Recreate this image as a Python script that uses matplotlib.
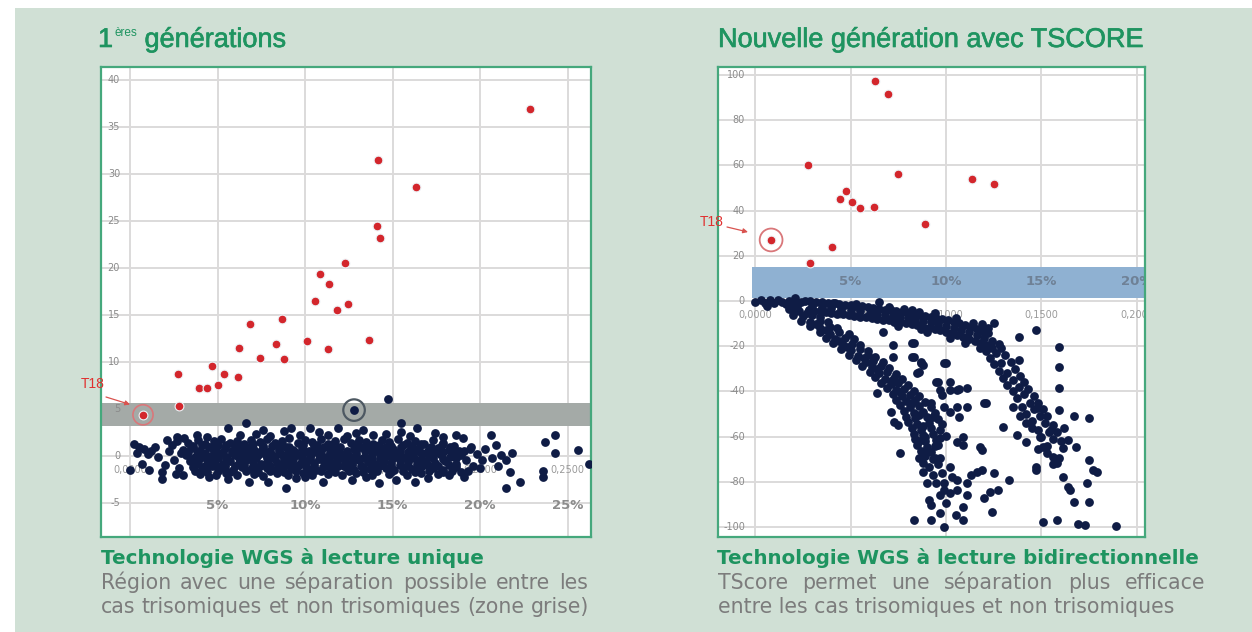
import matplotlib.pyplot as plt
from matplotlib.patches import Rectangle
import matplotlib.patheffects as pe
import numpy as np

W, H = 1252, 632

# ---- data (x in %, y = score) ----
left_red = [(22.86, 36.9), (14.17, 31.5), (16.34, 28.6), (14.11, 24.5), (14.29, 23.2),
            (12.29, 20.6), (10.86, 19.4), (11.37, 18.3), (10.57, 16.5), (12.46, 16.2),
            (11.8, 15.5), (6.86, 14.1), (8.69, 14.6), (10.1, 12.3), (11.3, 11.4),
            (13.66, 12.4), (8.34, 11.9), (6.23, 11.5), (7.43, 10.4), (8.8, 10.3),
            (4.69, 9.6), (5.37, 8.7), (6.17, 8.4), (2.74, 8.7), (3.94, 7.3), (4.4, 7.3),
            (5.03, 7.6), (2.8, 5.3), (0.74, 4.4)]

left_dark_out = [(14.74, 6.1), (15.5, 3.5), (6.6, 3.5), (12.8, 4.9)]

left_dark = [
    # sparse start
    (0.0, -1.5), (0.2, 1.3), (0.4, 0.3), (0.5, 1.0), (0.7, -0.8), (0.8, 0.8), (1.0, 0.2),
    (1.1, -1.5), (1.2, 0.5), (1.4, 1.0), (1.6, -0.1), (1.8, -1.7), (1.8, -2.4), (2.0, -0.9),
    (2.1, 1.7), (2.2, 0.6), (2.4, 1.2), (2.5, -0.4), (2.6, -1.9), (2.7, 2.0), (2.8, -1.3),
    (2.9, 0.3),
    # top fringe
    (2.7, 1.6), (3.1, 1.9), (5.6, 3.0), (6.3, 2.2), (8.8, 2.7), (9.2, 3.0), (10.3, 3.0),
    (10.8, 2.6), (11.9, 3.0), (12.9, 2.5), (13.9, 2.2), (15.5, 2.6), (16.4, 3.0), (17.4, 2.5),
    (3.8, 2.3), (4.4, 2.0), (7.2, 2.4), (8.0, 2.1), (9.7, 2.3), (11.3, 2.2), (12.4, 2.1),
    (14.6, 2.4), (16.0, 2.1), (17.9, 2.0), (18.6, 2.3), (19.0, 1.9), (7.6, 2.8), (13.3, 2.8),
    # bottom fringe
    (3.0, -2.0), (4.5, -2.2), (6.8, -2.7), (7.9, -2.7), (8.9, -3.4), (10.0, -2.2), (11.0, -2.7),
    (12.7, -2.5), (14.2, -2.9), (15.2, -2.5), (16.3, -2.8), (17.0, -2.3), (18.2, -2.0),
    (19.1, -2.2), (5.6, -2.4), (9.5, -2.3), (13.5, -2.2), (3.7, -1.6),
    # right tail
    (19.5, 1.0), (19.8, 0.2), (19.6, -1.0), (19.3, -1.6), (20.0, -1.3), (20.6, 2.2),
    (20.9, 1.2), (20.7, -0.2), (21.2, 0.1), (21.5, -0.4), (21.8, 0.3), (21.0, -1.1),
    (21.7, -1.7), (22.3, -2.7), (21.5, -3.4), (23.7, 1.5), (24.3, 2.2), (24.3, 0.3),
    (25.6, 0.7), (26.2, -0.85), (23.6, -1.6), (23.6, -2.2), (20.3, 0.8), (20.1, -0.4),
    # core
    (3.3, 1.4), (3.9, 1.7), (4.3, 1.3), (4.8, 1.6), (5.2, 1.8), (5.7, 1.4), (6.1, 1.6),
    (6.5, 1.3), (6.9, 1.7), (7.4, 1.5), (7.8, 1.8), (8.3, 1.4), (8.7, 1.6), (9.1, 1.9),
    (9.6, 1.4), (10.0, 1.7), (10.4, 1.5), (10.9, 1.8), (11.3, 1.3), (11.7, 1.6), (12.2, 1.8),
    (12.6, 1.4), (13.1, 1.7), (13.5, 1.5), (13.9, 1.3), (14.4, 1.7), (14.8, 1.5), (15.3, 1.8),
    (15.8, 1.4), (16.3, 1.6), (16.8, 1.3), (17.3, 1.7), (17.9, 1.4), (18.5, 1.1),
    (3.0, 0.7), (3.5, 0.9), (4.0, 0.6), (4.5, 1.0), (4.9, 0.7), (5.4, 0.9), (5.8, 0.6),
    (6.3, 0.8), (6.7, 1.0), (7.1, 0.7), (7.6, 0.9), (8.0, 0.6), (8.5, 0.8), (8.9, 1.0),
    (9.3, 0.7), (9.8, 0.9), (10.2, 0.6), (10.6, 0.8), (11.1, 1.0), (11.5, 0.7), (11.9, 0.9),
    (12.4, 0.6), (12.8, 0.8), (13.2, 1.0), (13.7, 0.7), (14.1, 0.9), (14.6, 0.6), (15.0, 0.8),
    (15.5, 1.0), (16.0, 0.7), (16.5, 0.9), (17.0, 0.6), (17.6, 0.9), (18.2, 0.7), (18.8, 0.5),
    (19.4, 0.8),
    (3.2, 0.1), (3.7, -0.1), (4.2, 0.2), (4.6, 0.0), (5.1, 0.2), (5.5, -0.1), (6.0, 0.1),
    (6.4, 0.2), (6.8, -0.1), (7.3, 0.1), (7.7, 0.2), (8.2, 0.0), (8.6, 0.2), (9.0, -0.1),
    (9.5, 0.1), (9.9, 0.3), (10.3, 0.0), (10.8, 0.2), (11.2, -0.1), (11.6, 0.1), (12.0, 0.3),
    (12.5, 0.0), (12.9, 0.2), (13.4, -0.1), (13.8, 0.1), (14.3, 0.3), (14.7, 0.0), (15.2, 0.2),
    (15.6, -0.1), (16.1, 0.1), (16.6, 0.3), (17.1, 0.0), (17.7, 0.2), (18.3, -0.1), (18.9, 0.1),
    (3.4, -0.5), (3.9, -0.7), (4.4, -0.4), (4.8, -0.6), (5.3, -0.8), (5.7, -0.5), (6.2, -0.7),
    (6.6, -0.4), (7.0, -0.6), (7.5, -0.8), (7.9, -0.5), (8.4, -0.7), (8.8, -0.4), (9.2, -0.6),
    (9.7, -0.8), (10.1, -0.5), (10.5, -0.7), (11.0, -0.4), (11.4, -0.6), (11.8, -0.8),
    (12.3, -0.5), (12.7, -0.7), (13.1, -0.4), (13.6, -0.6), (14.0, -0.8), (14.5, -0.5),
    (14.9, -0.7), (15.4, -0.4), (15.9, -0.6), (16.4, -0.8), (16.9, -0.5), (17.4, -0.7),
    (18.0, -0.5), (18.6, -0.8), (19.2, -0.4),
    (3.6, -1.2), (4.1, -1.4), (4.7, -1.1), (5.2, -1.3), (5.9, -1.5), (6.4, -1.2), (6.9, -1.4),
    (7.4, -1.1), (7.8, -1.3), (8.3, -1.5), (8.7, -1.2), (9.2, -1.4), (9.6, -1.1), (10.1, -1.3),
    (10.6, -1.5), (11.0, -1.2), (11.5, -1.4), (11.9, -1.1), (12.4, -1.3), (12.8, -1.5),
    (13.3, -1.2), (13.7, -1.4), (14.2, -1.1), (14.6, -1.3), (15.1, -1.5), (15.6, -1.2),
    (16.1, -1.4), (16.7, -1.1), (17.3, -1.3), (17.9, -1.5), (18.6, -1.2),
    (4.0, -1.9), (4.9, -2.0), (5.5, -1.8), (6.1, -2.0), (7.1, -1.9), (7.6, -2.1), (8.4, -1.8),
    (9.0, -2.0), (9.9, -1.8), (10.4, -2.0), (11.3, -1.9), (12.1, -2.0), (12.9, -1.8),
    (13.8, -2.0), (14.8, -1.9), (15.8, -2.0), (16.6, -1.8), (17.6, -1.9), (18.9, -1.7),
    (5.0, 1.2), (6.6, 0.4), (8.1, 1.1), (9.4, 0.4), (10.7, 1.2), (12.0, -0.2), (13.4, 0.5),
    (14.9, 1.1), (16.2, -0.2), (17.5, 0.5), (6.0, -1.0), (8.6, -1.0), (11.2, -1.0),
    (13.9, -1.0), (16.5, -1.0), (7.2, -0.2), (9.8, -0.3), (15.0, -0.2),
    # in-between rows
    (3.6, 1.1), (4.1, 1.2), (4.6, 1.0), (5.5, 1.2), (6.0, 1.1), (6.4, 1.0), (7.0, 1.3),
    (7.6, 1.1), (8.6, 1.2), (9.1, 1.0), (9.9, 1.2), (10.5, 1.1), (11.5, 1.2), (12.0, 1.0),
    (12.9, 1.3), (13.6, 1.1), (14.2, 1.2), (14.6, 1.0), (15.6, 1.2), (16.1, 1.1), (16.6, 1.3),
    (17.2, 1.0), (17.8, 1.2), (18.3, 1.0),
    (3.3, 0.4), (3.8, 0.5), (4.3, 0.3), (4.8, 0.5), (5.3, 0.4), (5.8, 0.3), (6.2, 0.5),
    (7.0, 0.4), (7.5, 0.5), (8.0, 0.3), (8.5, 0.5), (9.0, 0.4), (9.9, 0.5), (10.4, 0.3),
    (10.9, 0.5), (11.4, 0.4), (11.9, 0.5), (12.4, 0.3), (12.9, 0.5), (13.9, 0.4), (14.4, 0.5),
    (14.8, 0.3), (15.4, 0.5), (15.9, 0.4), (16.4, 0.5), (16.9, 0.3), (17.4, 0.5), (17.9, 0.4),
    (18.5, 0.3), (19.1, 0.5),
    (3.5, -0.3), (4.0, -0.2), (4.5, -0.3), (5.0, -0.2), (5.5, -0.3), (6.2, -0.2), (6.7, -0.3),
    (7.8, -0.2), (8.3, -0.3), (8.8, -0.2), (9.3, -0.3), (10.3, -0.2), (10.8, -0.3),
    (11.3, -0.2), (11.8, -0.3), (12.3, -0.2), (12.8, -0.3), (13.3, -0.2), (13.8, -0.3),
    (14.3, -0.2), (15.5, -0.3), (16.0, -0.2), (16.6, -0.3), (17.3, -0.2), (17.9, -0.3),
    (18.6, -0.2),
    (3.7, -0.9), (4.3, -1.0), (4.9, -0.9), (5.4, -1.0), (6.5, -0.9), (7.0, -1.0), (7.5, -0.9),
    (8.0, -1.0), (9.0, -0.9), (9.5, -1.0), (10.0, -0.9), (10.5, -1.0), (11.7, -0.9),
    (12.2, -1.0), (12.7, -0.9), (13.2, -1.0), (14.4, -0.9), (14.9, -1.0), (15.4, -0.9),
    (15.9, -1.0), (17.0, -0.9), (17.6, -1.0), (18.2, -0.9),
    (4.4, -1.7), (5.0, -1.6), (5.7, -1.7), (6.6, -1.6), (7.3, -1.7), (8.0, -1.6), (8.8, -1.7),
    (9.5, -1.6), (10.2, -1.7), (10.9, -1.6), (11.7, -1.7), (12.5, -1.6), (13.3, -1.7),
    (14.1, -1.6), (14.9, -1.7), (15.6, -1.6), (16.3, -1.7), (17.1, -1.6), (17.9, -1.7),
    (18.4, -1.6),
]

right_red = [(6.28, 97.3), (6.96, 91.6), (2.77, 60.2), (7.49, 56.2), (11.36, 54.0),
             (12.51, 51.8), (4.76, 48.7), (4.45, 45.1), (5.08, 43.8), (5.5, 41.2),
             (6.23, 41.6), (8.9, 34.1), (0.84, 27.0), (4.03, 23.9), (2.88, 16.8)]

right_dark = [
    # origin cluster
    (0.0, -0.5), (0.3, 0.5), (0.5, -1.0), (0.8, 0.3), (1.0, -0.8), (1.2, 0.6), (1.4, -0.3),
    (1.6, -1.5), (1.8, 0.2), (2.0, -0.9), (2.1, 1.2), (2.2, -2.0), (2.4, -0.5), (2.0, -3.2),
    (0.6, -2.0),
    # upper branch
    (2.6, 0.0), (2.9, -0.2), (3.2, -0.4), (3.5, -0.5), (3.8, -0.9), (4.1, -1.0), (4.4, -1.3),
    (4.7, -1.6), (5.0, -1.8), (5.3, -2.1), (5.6, -2.4), (5.9, -2.7), (6.2, -3.0), (6.5, -3.4),
    (6.8, -3.8), (7.1, -4.1), (7.4, -4.5), (7.7, -4.8), (8.0, -5.2), (8.3, -5.6), (8.6, -6.0),
    (8.9, -6.5), (9.2, -7.0), (9.5, -7.6), (9.8, -8.0), (10.1, -8.6), (10.4, -9.2),
    (10.7, -9.9), (11.0, -10.6), (11.3, -11.3), (11.6, -12.2), (11.9, -13.2), (12.2, -14.3),
    (6.5, -0.3), (4.2, -0.7), (5.3, -1.2), (7.8, -3.6), (8.6, -4.9),
    (3.0, -2.2), (3.5, -2.6), (4.0, -3.1), (4.5, -3.5), (5.0, -4.0), (5.5, -4.5),
    (2.8, -4.0), (3.1, -4.3), (3.4, -4.6), (3.7, -5.0), (4.0, -5.2), (4.3, -5.6), (4.6, -5.9),
    (4.9, -6.2), (5.2, -6.5), (5.5, -6.9), (5.8, -7.2), (6.1, -7.5), (6.4, -7.9), (6.7, -8.3),
    (7.0, -8.6), (7.3, -9.1), (7.6, -9.5), (7.9, -9.9), (8.2, -10.3), (8.5, -10.8),
    (8.8, -11.3), (9.1, -11.8), (9.4, -12.4), (9.7, -13.0), (10.0, -13.6), (10.3, -14.3),
    (10.6, -15.0), (10.9, -15.8), (11.2, -16.6), (11.5, -17.5), (11.8, -18.5), (12.1, -19.6),
    (12.4, -20.8),
    (6.0, -5.2), (6.4, -5.6), (6.8, -6.1), (7.2, -6.6), (7.6, -7.1), (8.0, -7.7), (8.4, -8.3),
    (8.8, -8.9), (9.2, -9.5), (9.6, -10.3), (10.0, -11.0), (10.4, -11.8), (10.8, -12.8),
    (11.2, -13.8), (11.6, -14.9), (12.0, -16.2), (12.4, -17.5), (12.8, -19.0),
    (7.0, -2.8), (8.2, -3.9), (9.4, -5.4), (10.5, -7.4), (11.4, -9.6), (12.2, -12.0),
    (9.0, -13.9), (10.2, -16.2), (11.0, -18.6), (11.8, -21.0), (7.5, -11.2), (8.7, -12.6),
    (12.1, -22), (12.3, -25), (12.5, -28), (12.8, -31), (13.0, -34), (13.2, -37), (13.5, -40),
    (13.7, -43), (14.0, -47), (14.2, -50), (14.5, -53), (14.8, -57), (15.0, -60),
    (12.9, -21), (13.1, -24), (13.4, -27), (13.6, -30), (13.9, -33), (14.1, -36), (14.3, -39),
    (14.6, -42), (14.8, -45), (15.1, -48), (15.3, -51), (15.6, -55), (15.8, -58), (16.0, -62),
    (12.6, -23), (12.9, -27.5), (13.2, -32), (13.5, -35), (13.8, -38), (14.1, -41),
    (14.4, -45), (14.6, -48), (14.9, -51), (15.2, -54), (15.4, -58), (15.6, -61), (15.3, -64),
    # scatter around upper branch
    (12.5, -9.9), (11.9, -10.3), (13.8, -15.8), (14.7, -12.8), (15.9, -20.2), (13.8, -26.1),
    (15.9, -29.1), (15.9, -38.6), (12.1, -45.3), (14.8, -47.5), (15.9, -48.2), (16.7, -50.9),
    (17.5, -51.9), (13.0, -55.6), (13.7, -59.3), (14.2, -62.2), (14.9, -60.0), (15.1, -64.5),
    (15.3, -67.4), (15.6, -68.8), (15.9, -69.6), (15.8, -71.8), (14.7, -73.3), (14.7, -74.8),
    (16.1, -77.7), (16.4, -82.2), (16.5, -83.6), (16.8, -64.5), (16.4, -61.5), (17.5, -70.3),
    (17.7, -74.8), (17.9, -75.5), (17.4, -80.7), (16.7, -88.8), (17.5, -88.8), (15.1, -97.9),
    (15.8, -96.9), (16.9, -98.8), (17.3, -99.1), (18.9, -99.5), (14.8, -65.6), (13.3, -79.2),
    (12.7, -83.6), (12.4, -93.2), (14.5, -56), (14.2, -54), (15.5, -57), (16.2, -56),
    (13.5, -47), (13.9, -51), (16.1, -65), (15.6, -72),
    # lower branch
    (1.8, -3.6), (2.3, -4.3), (2.8, -3.9),
    (2.0, -6.2), (2.5, -6.8), (3.0, -6.4), (3.4, -7.0),
    (2.4, -8.7), (2.9, -9.3), (3.4, -8.9), (3.8, -9.5),
    (2.9, -11.2), (3.4, -11.9), (3.9, -11.4), (4.3, -12.0),
    (3.4, -13.7), (3.9, -14.4), (4.4, -13.9), (4.9, -14.5),
    (3.7, -16.3), (4.2, -16.9), (4.7, -16.4), (5.2, -17.0),
    (4.1, -18.7), (4.6, -19.4), (5.1, -18.9), (5.5, -19.6),
    (4.5, -21.3), (5.0, -21.9), (5.5, -21.4), (5.9, -22.1),
    (4.9, -23.8), (5.4, -24.4), (5.9, -23.9), (6.3, -24.6),
    (5.3, -26.2), (5.8, -26.9), (6.2, -26.4), (6.7, -27.1),
    (5.6, -28.7), (6.1, -29.4), (6.6, -28.9), (7.0, -29.6),
    (6.0, -31.2), (6.5, -31.9), (6.9, -31.4), (7.4, -32.1),
    (6.3, -33.7), (6.8, -34.4), (7.3, -33.9), (7.7, -34.6),
    (6.6, -36.2), (7.1, -36.9), (7.5, -36.4), (8.0, -37.1),
    (6.9, -38.7), (7.4, -39.4), (7.8, -38.9), (8.3, -39.6),
    (7.2, -41.2), (7.7, -41.9), (8.1, -41.4), (8.6, -42.1),
    (7.4, -43.7), (7.9, -44.4), (8.4, -43.9), (8.9, -44.6),
    (7.6, -46.2), (8.1, -46.9), (8.6, -46.4), (9.2, -47.1),
    (7.8, -48.7), (8.3, -49.4), (8.8, -48.9), (9.4, -49.6),
    (7.9, -51.2), (8.4, -51.9), (9.0, -51.4), (9.6, -52.1),
    (8.0, -53.7), (8.5, -54.4), (9.1, -53.9), (9.8, -54.6),
    (8.2, -56.2), (8.7, -56.9), (9.2, -56.4), (9.7, -57.1),
    (8.3, -58.7), (8.8, -59.4), (9.3, -58.9), (10.0, -59.6),
    (8.4, -61.2), (8.9, -61.9), (9.5, -61.4),
    (8.5, -63.7), (9.0, -64.4), (9.6, -63.9),
    (8.7, -66.2), (9.2, -66.9),
    (8.9, -68.7), (9.4, -69.4),
    (2.7, -5.3), (3.2, -10.1), (3.7, -12.8), (4.4, -17.8), (4.8, -20.3), (5.7, -25.3),
    (6.4, -30.2), (7.1, -35.3), (7.6, -40.3), (8.2, -45.2), (8.6, -50.3), (8.8, -55.2),
    # scatter around lower branch
    (7.6, -67.4), (8.3, -96.9), (9.2, -96.9), (9.9, -99.8), (10.5, -94.7), (11.1, -85.8),
    (11.6, -75.5), (11.3, -77.0), (10.6, -79.2), (10.2, -73.3), (9.7, -69.6), (9.1, -73.3),
    (9.5, -80.7), (9.9, -83.6), (10.9, -91.0), (11.1, -80.7), (12.0, -87.3), (12.3, -84.4),
    (11.9, -74.8), (12.5, -76.3), (11.8, -64.5), (11.9, -66.0), (10.9, -60.0), (10.7, -51.2),
    (11.1, -46.8), (10.2, -49.0), (10.2, -39.4), (10.6, -39.4), (11.1, -38.6), (9.6, -35.7),
    (10.0, -27.3), (8.7, -26.8), (8.2, -18.7), (7.2, -24.6), (6.7, -13.6), (7.2, -19.5),
    (8.5, -32.0), (8.3, -24.6), (8.8, -28.3), (9.5, -35.7), (9.7, -39.4), (9.2, -45.3),
    (9.3, -51.2), (9.9, -46.8), (9.7, -60.8), (10.6, -62.2), (10.9, -63.7), (6.4, -40.9),
    (7.1, -49.0), (7.3, -53.4), (7.5, -54.9), (8.8, -71.8), (8.6, -69.6), (8.8, -75.5),
    (9.0, -80.7), (9.1, -88.1), (9.2, -90.3), (9.7, -85.8), (10.0, -89.5), (10.6, -83.6),
    (9.7, -93.7), (10.9, -96.9), (10.2, -85.1), (9.9, -80.7), (8.6, -62), (9.0, -66),
    (9.3, -70), (8.9, -60), (9.4, -64), (9.6, -72), (9.3, -77), (9.8, -76), (10.3, -78),
    (9.9, -27.5), (8.7, -27.6), (8.6, -31.3), (10.2, -35.7), (10.7, -39.0), (9.8, -41.5),
    (12.0, -45.3), (10.6, -46.8), (8.3, -18.7), (8.2, -24.6),
]

left_yticks = [-5, 0, 5, 10, 15, 20, 25, 30, 35, 40]
left_gridx = [0, 0.05, 0.10, 0.15, 0.20, 0.25]
left_pct = ['5%', '10%', '15%', '20%', '25%']
left_dec = ['0,0000', '0,0500', '0,1000', '0,1500', '0,2000', '0,2500']

right_yticks = [-100, -80, -60, -40, -20, 0, 20, 40, 60, 80, 100]
right_gridx = [0, 0.05, 0.10, 0.15, 0.20]
right_pct = ['5%', '10%', '15%', '20%']
right_dec = ['0,0000', '0,0500', '0,1000', '0,1500', '0,2000']

GREEN = '#1e9460'
NAVY = '#0f1c45'
RED = '#d3262c'
GREY_TXT = '#7c7c7c'
DOT = 40

fig = plt.figure(figsize=(W / 100, H / 100), dpi=100)
fig.patch.set_facecolor('white')
fig.patches.append(Rectangle((15 / W, 0), 1 - 15 / W, 1 - 8 / H, transform=fig.transFigure,
                             facecolor='#d0e0d5', edgecolor='none', zorder=-10))


def px(x, y):
    return x / W, 1 - y / H


def make_ax(x0, y0, x1, y1, xlim, ylim, gridx, gridy):
    ax = fig.add_axes([x0 / W, 1 - y1 / H, (x1 - x0) / W, (y1 - y0) / H])
    ax.set_xlim(*xlim)
    ax.set_ylim(*ylim)
    ax.set_xticks(gridx)
    ax.set_yticks(gridy)
    ax.tick_params(length=0, labelbottom=False, labelleft=False)
    ax.grid(True, color='#dcdada', lw=1.4, zorder=0)
    ax.set_axisbelow(True)
    for s in ax.spines.values():
        s.set_color('#45a87c')
        s.set_linewidth(1.6)
    return ax


# ---------------- left panel ----------------
ax1 = make_ax(101, 67, 591, 537, (-0.0166, 0.2634), (-8.6, 41.4), left_gridx, left_yticks)
ax1.axhspan(3.2, 5.7, color='#a4aaa7', zorder=1, lw=0)
for v in left_yticks:
    ax1.text(0.039, v, str(v), transform=ax1.get_yaxis_transform(), ha='right', va='center',
             fontsize=7, color='#8a8a8a', zorder=2)
for xv, lab in zip(left_gridx, left_dec):
    ax1.text(xv, -1.5, lab, ha='center', va='center', fontsize=7, color='#9a9a9a', zorder=2)
for xv, lab in zip(left_gridx[1:], left_pct):
    ax1.text(xv, -5.3, lab, ha='center', va='center', fontsize=9.5, fontweight='bold',
             color='#8c8c8c', zorder=2)

ld = np.array(left_dark)
ax1.scatter(ld[:, 0] / 100, ld[:, 1], s=DOT, color=NAVY, lw=0, zorder=3)
lo = np.array(left_dark_out)
ax1.scatter(lo[:, 0] / 100, lo[:, 1], s=DOT, color=NAVY, lw=0, zorder=3)
lr = np.array(left_red)
ax1.scatter(lr[:, 0] / 100, lr[:, 1], s=DOT, color=RED, edgecolors='#eef2f6', linewidths=0.8,
            zorder=4)
# circled cases
ax1.scatter([left_red[-1][0] / 100], [left_red[-1][1]], s=210, facecolors='none',
            edgecolors='#d9777a', linewidths=1.2, zorder=4)
ax1.scatter([left_dark_out[-1][0] / 100], [left_dark_out[-1][1]], s=240, facecolors='none',
            edgecolors='#4d5862', linewidths=1.6, zorder=4)
ax1.annotate('', xy=(0.0, 5.5), xytext=(106, H - 397), textcoords='figure pixels',
             arrowprops=dict(arrowstyle='-|>', color='#d9534f', lw=0.9, mutation_scale=7,
                             shrinkA=0, shrinkB=0), annotation_clip=False, zorder=5)
fig.text(*px(93, 384), 'T18', ha='center', va='center', fontsize=10, color='#e0302f',
         family='Liberation Sans')

# ---------------- right panel ----------------
ax2 = make_ax(718, 67, 1145, 537, (-0.0194, 0.2042), (-104.4, 103.5), right_gridx, right_yticks)
ax2.axhspan(1.3, 15.0, xmin=0.08, color='#8fb1d2', zorder=1, lw=0)
for v in right_yticks:
    ax2.text(0.063, v, str(v), transform=ax2.get_yaxis_transform(), ha='right', va='center',
             fontsize=7, color='#8a8a8a', zorder=2)
for xv, lab in zip(right_gridx, right_dec):
    ax2.text(xv, -6.2, lab, ha='center', va='center', fontsize=7, color='#9a9a9a', zorder=2,
             clip_on=True)
for xv, lab in zip(right_gridx[1:], right_pct):
    ax2.text(xv, 8.4, lab, ha='center', va='center', fontsize=9.5, fontweight='bold',
             color='#6f8196', zorder=2, clip_on=True)

rd = np.array(right_dark)
ax2.scatter(rd[:, 0] / 100, rd[:, 1], s=DOT, color=NAVY, lw=0, zorder=3)
rr = np.array(right_red)
ax2.scatter(rr[:, 0] / 100, rr[:, 1], s=DOT, color=RED, edgecolors='#eef2f6', linewidths=0.8,
            zorder=4)
ax2.scatter([right_red[12][0] / 100], [right_red[12][1]], s=270, facecolors='none',
            edgecolors='#d9777a', linewidths=1.3, zorder=4)
ax2.annotate('', xy=(-0.0037, 30.5), xytext=(727, H - 227), textcoords='figure pixels',
             arrowprops=dict(arrowstyle='-|>', color='#d9534f', lw=0.9, mutation_scale=7,
                             shrinkA=0, shrinkB=0), annotation_clip=False, zorder=5)
fig.text(*px(712, 222), 'T18', ha='center', va='center', fontsize=10, color='#e0302f',
         family='Liberation Sans')

# ---------------- texts ----------------
renderer = fig.canvas.get_renderer()


def width_of(t):
    return t.get_window_extent(renderer).width


bolden = [pe.withStroke(linewidth=0.45, foreground=GREEN)]
title_kw = dict(fontsize=19.5, color=GREEN, family='Liberation Sans', va='baseline', ha='left',
                path_effects=bolden)
t1 = fig.text(*px(98, 47), '1', **title_kw)
x = 98 + width_of(t1) + 1
t2 = fig.text(*px(x, 36), 'ères', fontsize=8.5, color=GREEN, family='Liberation Sans',
              va='baseline', ha='left')
x += width_of(t2)
fig.text(*px(x, 47), ' générations', **title_kw)
fig.text(*px(718, 47), 'Nouvelle génération avec TSCORE', **title_kw)

sub_kw = dict(fontsize=14.3, color=GREEN, family='DejaVu Sans', fontweight='bold',
              va='baseline', ha='left')
fig.text(*px(101, 564), 'Technologie WGS à lecture unique', **sub_kw)
fig.text(*px(717, 564), 'Technologie WGS à lecture bidirectionnelle', **sub_kw)

body_kw = dict(fontsize=14.8, color=GREY_TXT, family='DejaVu Sans', va='baseline', ha='left')


def justify(line, x0, x1, ybase):
    words = line.split()
    texts = [fig.text(0, 0, w, **body_kw) for w in words]
    widths = [width_of(t) for t in texts]
    gap = (x1 - x0 - sum(widths)) / (len(words) - 1)
    xx = x0
    for t, w in zip(texts, widths):
        t.set_position(px(xx, ybase))
        xx += w + gap


justify('Région avec une séparation possible entre les', 101, 588, 589)
justify('cas trisomiques et non trisomiques (zone grise)', 101, 589, 613)
justify('TScore permet une séparation plus efficace', 718, 1205, 589)
fig.text(*px(718, 613), 'entre les cas trisomiques et non trisomiques', **body_kw)

fig.savefig('out.png', dpi=100, facecolor=fig.get_facecolor())
